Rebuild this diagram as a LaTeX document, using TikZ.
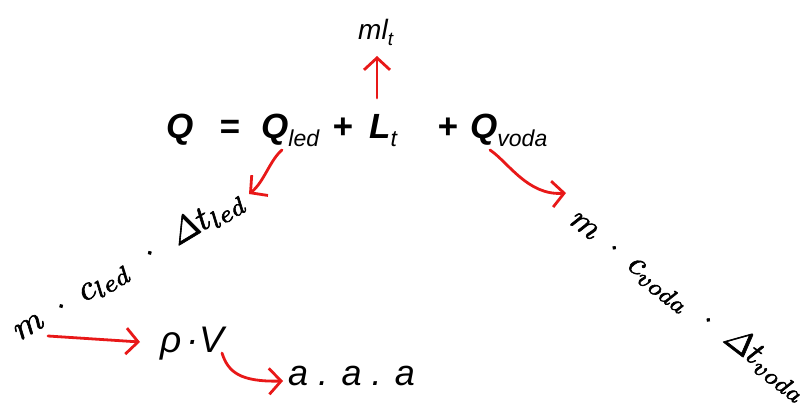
\documentclass[tikz,border=0pt]{standalone}
\usepackage{amsmath}
\usepackage{fontspec}
\setmainfont{Liberation Sans}
\usetikzlibrary{arrows.meta}
\definecolor{arr}{RGB}{232,24,24}
\newcommand{\subf}[1]{\raisebox{-9pt}{\fontsize{23}{25}\selectfont\mdseries\itshape #1}}
\newcommand{\smath}[2]{\scalebox{#1}{\fontsize{10}{12}\selectfont\special{pdf:literal direct 2 Tr 0.18 w}$#2$\special{pdf:literal direct 0 Tr}}}
\begin{document}
\begin{tikzpicture}[x=1pt,y=-1pt,
  eq/.style={inner sep=0pt, anchor=base west, font=\fontsize{35}{40}\selectfont\bfseries\itshape},
  txt/.style={inner sep=0pt, anchor=base west},
  mathbig/.style={inner sep=0pt, anchor=base west},
  redarrow/.style={draw=arr, line width=2.8pt, line cap=round,
    -{Straight Barb[length=12pt,width=26pt,line width=2.8pt]}}
]
\useasboundingbox (0,0) rectangle (802,409);

% main equation
\node[eq] (Q) at (166,138) {Q};
\node[eq] (eqsign) at (219,138) {=};
\node[eq] (Qled) at (261,138) {Q\subf{led}};
\node[eq] (p1) at (332,138) {+};
\node[eq] (Lt) at (369,138) {L\subf{t}};
\node[eq] (p2) at (437,138) {+};
\node[eq] (Qvoda) at (470,138) {Q\subf{voda}};

% top
\node[txt, font=\fontsize{28}{30}\selectfont\itshape] (mlt) at (358,40)
  {ml\raisebox{-6pt}{\fontsize{19}{20}\selectfont t}};

% left tilted expression
\node[mathbig, rotate=31] (leftexp) at (20,341)
  {\smath{3.5}{m\;\cdot\;c_{led}\mskip7.5mu\cdot\mskip7.5mu\varDelta t_{led}}};

% right tilted expression
\node[mathbig, rotate=-37.5] (rightexp) at (568,223)
  {\smath{3.4}{m\;\cdot\;c_{voda}\mskip6mu\cdot\mskip6mu\varDelta t_{voda}}};

% rho V
\node[txt, font=\fontsize{37}{40}\selectfont\itshape] (rhoV) at (160,352)
  {ρ\hspace{5pt}·\hspace{1pt}V};

% a . a . a
\node[txt, font=\fontsize{36}{40}\selectfont\itshape] (aaa) at (288,385) {a . a . a};

\coordinate (tipL) at (249,194);
\coordinate (tipR) at (566,193);

% arrows
\draw[redarrow] ([shift={(8,-40)}]Lt.base west) -- ([shift={(19,16)}]mlt.base west);
\draw[redarrow] ([shift={(21,12)}]Qled.base west)
  .. controls (270,160) and (264,182) .. (tipL);
\draw[redarrow] ([shift={(20,12)}]Qvoda.base west)
  .. controls (508,162) and (528,196) .. (tipR);
\draw[redarrow] ([shift={(28,-5)}]leftexp.base west) -- ([shift={(-20,-10)}]rhoV.base west);
\draw[redarrow] ([shift={(62,1)}]rhoV.base west)
  .. controls (228,372) and (240,382) .. ([shift={(-5,-4)}]aaa.base west);
\end{tikzpicture}
\end{document}
